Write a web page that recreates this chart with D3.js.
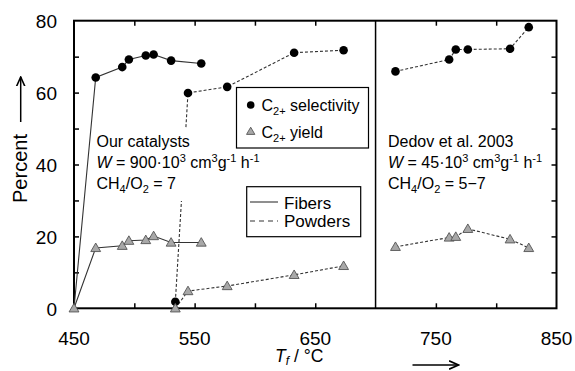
<!DOCTYPE html>
<html>
<head>
<meta charset="utf-8">
<script src="https://cdn.jsdelivr.net/npm/d3@7/dist/d3.min.js"></script>
<style>
  html, body { margin: 0; padding: 0; background: #fff; }
  svg { display: block; font-family: "Liberation Sans", Arial, sans-serif; }
</style>
</head>
<body>
<div id="chart"></div>
<script>
'use strict';

// ─── Data ───────────────────────────────────────────────────────────────────
const fiberT      = [450, 468, 490, 495.5, 509.5, 516, 530.5, 555.5];
const fiberSel    = [0, 64.2, 67.1, 69.2, 70.3, 70.6, 68.9, 68.1];
const fiberYield  = [0, 16.8, 17.4, 18.8, 19.0, 20.1, 18.3, 18.3];

const powderT     = [534, 544.5, 577, 632.5, 673.5];
const powderSel   = [1.8, 59.9, 61.6, 71.1, 71.8];
const powderYield = [0, 4.8, 6.2, 9.3, 11.8];

const dedovT      = [716.5, 761, 766.5, 776.5, 811.5, 827];
const dedovSel    = [65.9, 69.2, 72.0, 72.0, 72.2, 78.2];
const dedovYield  = [17.1, 19.7, 19.9, 22.1, 19.2, 16.8];

const xTickLabels = [450, 550, 650, 750, 850];
const yTickLabels = [0, 20, 40, 60, 80];
const dividerT    = 700;

// ─── Layout ─────────────────────────────────────────────────────────────────
const W = 575, H = 371;
const M = { left: 74, right: 18.5, top: 20.7, bottom: 62.7 };

const svg = d3.select('#chart').append('svg')
    .attr('width', W).attr('height', H);

const x = d3.scaleLinear().domain([450, 850]).range([M.left, W - M.right]);
const y = d3.scaleLinear().domain([0, 80]).range([H - M.bottom, M.top]);

const LINE = '#333';

// ─── Ticks (inward, every 50 / every 10) ────────────────────────────────────
const xMinor = d3.range(500, 850, 50).filter(function (t) { return t !== dividerT; });
const yMinor = d3.range(10, 80, 10);

function styleTicks(g) {
    g.select('.domain').remove();
    g.selectAll('line').attr('stroke', '#000').attr('stroke-width', 1.5);
}
svg.append('g').attr('transform', 'translate(0,' + y(0) + ')')
    .call(d3.axisTop(x).tickValues(xMinor).tickSize(5).tickFormat('')).call(styleTicks);
svg.append('g').attr('transform', 'translate(0,' + y(80) + ')')
    .call(d3.axisBottom(x).tickValues(xMinor).tickSize(5).tickFormat('')).call(styleTicks);
svg.append('g').attr('transform', 'translate(' + x(450) + ',0)')
    .call(d3.axisRight(y).tickValues(yMinor).tickSize(5).tickFormat('')).call(styleTicks);
svg.append('g').attr('transform', 'translate(' + x(850) + ',0)')
    .call(d3.axisLeft(y).tickValues(yMinor).tickSize(5).tickFormat('')).call(styleTicks);

// Tick labels
svg.append('g').selectAll('text').data(xTickLabels).enter().append('text')
    .attr('x', function (d) { return x(d); })
    .attr('y', 344.5)
    .attr('text-anchor', 'middle')
    .attr('font-size', 19)
    .text(function (d) { return d; });

svg.append('g').selectAll('text').data(yTickLabels).enter().append('text')
    .attr('x', 57)
    .attr('y', function (d) { return y(d); })
    .attr('dy', '0.38em')
    .attr('text-anchor', 'end')
    .attr('font-size', 19)
    .text(function (d) { return d; });

// Frame + divider
svg.append('rect')
    .attr('x', x(450)).attr('y', y(80))
    .attr('width', x(850) - x(450)).attr('height', y(0) - y(80))
    .attr('fill', 'none').attr('stroke', '#000').attr('stroke-width', 2);
svg.append('line')
    .attr('x1', x(dividerT)).attr('x2', x(dividerT))
    .attr('y1', y(80)).attr('y2', y(0))
    .attr('stroke', '#000').attr('stroke-width', 1.5);

// ─── Series ─────────────────────────────────────────────────────────────────
const line = d3.line().x(function (d) { return x(d[0]); }).y(function (d) { return y(d[1]); });
const tri  = d3.symbol().type(d3.symbolTriangle).size(42);

function pairs(ts, vs) { return ts.map(function (t, i) { return [t, vs[i]]; }); }

function drawLine(data, dashed) {
    svg.append('path')
        .datum(data)
        .attr('d', line)
        .attr('fill', 'none')
        .attr('stroke', LINE)
        .attr('stroke-width', 1.1)
        .attr('stroke-dasharray', dashed ? '3,2' : null);
}

function drawCircles(data) {
    svg.append('g').selectAll('circle')
        .data(data.filter(function (d) { return d[1] > 0; }))
        .enter().append('circle')
        .attr('cx', function (d) { return x(d[0]); })
        .attr('cy', function (d) { return y(d[1]); })
        .attr('r', 4.3)
        .attr('fill', '#000');
}

function drawTriangles(data) {
    svg.append('g').selectAll('path')
        .data(data).enter().append('path')
        .attr('d', tri)
        .attr('transform', function (d) { return 'translate(' + x(d[0]) + ',' + (y(d[1]) + 0.8) + ')'; })
        .attr('fill', '#a8a8a8')
        .attr('stroke', '#555')
        .attr('stroke-width', 0.9);
}

const fSel = pairs(fiberT, fiberSel),   fYld = pairs(fiberT, fiberYield);
const pSel = pairs(powderT, powderSel), pYld = pairs(powderT, powderYield);
const dSel = pairs(dedovT, dedovSel),   dYld = pairs(dedovT, dedovYield);

drawLine(fSel, false); drawLine(fYld, false);
drawLine(pSel, true);  drawLine(pYld, true);
drawLine(dSel, true);  drawLine(dYld, true);

// ─── Rich text: segments [text, shift(px, + = down), size, italic] ──────────
function richText(parent, x0, y0, size, segs) {
    const t = parent.append('text').attr('x', x0).attr('y', y0).attr('font-size', size);
    let cur = 0;
    segs.forEach(function (s) {
        const shift = s[1] || 0;
        const ts = t.append('tspan').attr('dy', shift - cur).text(s[0]);
        if (s[2]) ts.attr('font-size', s[2]);
        if (s[3]) ts.attr('font-style', 'italic');
        cur = shift;
    });
    return t;
}

function infoBlock(x0, y0, title, wVal, ratio) {
    const g = svg.append('g');
    richText(g, x0, y0, 16, [[title]]);
    richText(g, x0, y0 + 21, 16, [
        ['W', 0, null, true], [' = ' + wVal + '\u00b710'], ['3', -6, 11],
        [' cm', 0], ['3', -6, 11], ['g', 0], ['-1', -6, 11], [' h', 0], ['-1', -6, 11]
    ]);
    richText(g, x0, y0 + 42, 16, [
        ['CH'], ['4', 4, 11], ['/O', 0], ['2', 4, 11], [' = ' + ratio, 0]
    ]);
}

// white patch that hides the powder line behind the text (as in the original)
svg.append('rect').attr('x', 94).attr('y', 129).attr('width', 140).attr('height', 72).attr('fill', '#fff');
infoBlock(96.5, 147, 'Our catalysts', '900', '7');
infoBlock(388, 146.5, 'Dedov et al. 2003', '45', '5\u22127');

drawCircles(fSel); drawCircles(pSel); drawCircles(dSel);
drawTriangles(fYld); drawTriangles(pYld); drawTriangles(dYld);

// ─── Legends ────────────────────────────────────────────────────────────────
const lg1 = svg.append('g');
lg1.append('rect').attr('x', 236.5).attr('y', 87.5).attr('width', 132).attr('height', 60.5)
    .attr('fill', '#fff').attr('stroke', '#000').attr('stroke-width', 1.2);
lg1.append('circle').attr('cx', 250.7).attr('cy', 105).attr('r', 3.8).attr('fill', '#000');
lg1.append('path').attr('d', d3.symbol().type(d3.symbolTriangle).size(30))
    .attr('transform', 'translate(250.7,132)')
    .attr('fill', '#a8a8a8').attr('stroke', '#555').attr('stroke-width', 0.9);
[['selectivity', 111], ['yield', 138]].forEach(function (r) {
    richText(lg1, 261.5, r[1], 16, [['C'], ['2+', 4, 11], [' ' + r[0], 0]]);
});

const lg2 = svg.append('g');
lg2.append('rect').attr('x', 246.7).attr('y', 186.7).attr('width', 114).attr('height', 50)
    .attr('fill', '#fff').attr('stroke', '#000').attr('stroke-width', 1.2);
lg2.append('line').attr('x1', 250).attr('x2', 278).attr('y1', 202).attr('y2', 202)
    .attr('stroke', LINE).attr('stroke-width', 1.1);
lg2.append('line').attr('x1', 250).attr('x2', 278).attr('y1', 221).attr('y2', 221)
    .attr('stroke', LINE).attr('stroke-width', 1.1).attr('stroke-dasharray', '5,4');
lg2.append('text').attr('x', 284).attr('y', 208.5).attr('font-size', 17).text('Fibers');
lg2.append('text').attr('x', 284).attr('y', 227).attr('font-size', 17).text('Powders');

// ─── Axis titles with arrows ────────────────────────────────────────────────
svg.append('defs').append('marker')
    .attr('id', 'arr').attr('viewBox', '0 0 10 10').attr('refX', 9).attr('refY', 5)
    .attr('markerWidth', 7).attr('markerHeight', 7).attr('orient', 'auto')
    .append('path').attr('d', 'M0,1 L9,5 L0,9').attr('fill', 'none').attr('stroke', '#000').attr('stroke-width', 1.5);

svg.append('text')
    .attr('transform', 'translate(27,168.5) rotate(-90)')
    .attr('text-anchor', 'middle')
    .attr('font-size', 20)
    .text('Percent');
svg.append('line').attr('x1', 20.7).attr('x2', 20.7).attr('y1', 122).attr('y2', 77)
    .attr('stroke', '#000').attr('stroke-width', 1.5).attr('marker-end', 'url(#arr)');

richText(svg, 275, 361.5, 17.5, [['T', 0, null, true], ['f', 3, 12, true], [' / \u00b0C', 0]]);
svg.append('line').attr('x1', 412.5).attr('x2', 458.5).attr('y1', 365).attr('y2', 365)
    .attr('stroke', '#000').attr('stroke-width', 1.5).attr('marker-end', 'url(#arr)');
</script>
</body>
</html>
